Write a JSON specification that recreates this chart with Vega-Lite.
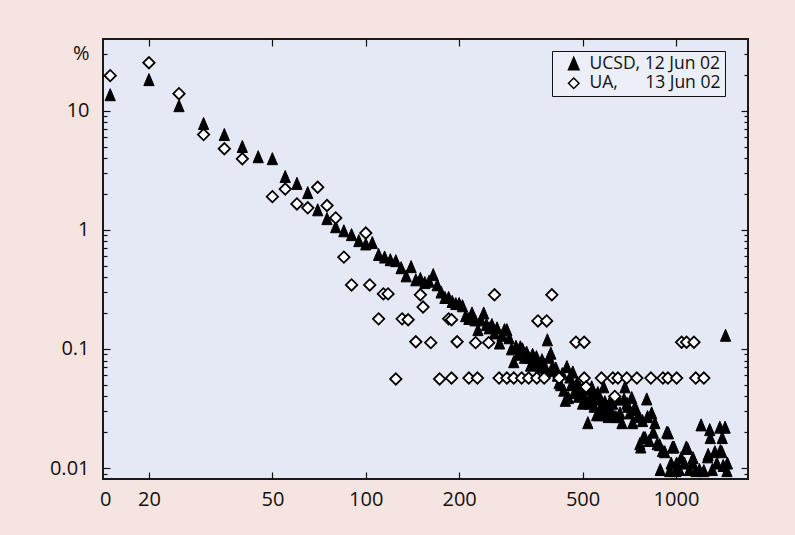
{
  "$schema": "https://vega.github.io/schema/vega-lite/v6.json",
  "width": 645,
  "height": 440,
  "autosize": {"type": "none"},
  "padding": {"left": 103, "top": 39, "right": 47, "bottom": 56},
  "background": "#f6e4e1",
  "config": {
    "view": {"fill": "#e5e9f5", "stroke": "#1a1a1a", "strokeWidth": 2},
    "font": "Open Sans",
    "axis": {"grid": false, "domain": false, "tickColor": "#111", "tickWidth": 1.2, "labelFont": "Open Sans", "labelFontSize": 20, "labelColor": "#111", "title": null, "labelOverlap": false, "labelFlush": false}
  },
  "data": {"values": [
    {"s":"U","x":15,"y":13.6},{"s":"U","x":20,"y":18.2},{"s":"U","x":25,"y":11.0},{"s":"U","x":30,"y":7.8},{"s":"U","x":35,"y":6.3},{"s":"U","x":40,"y":5.0},{"s":"U","x":45,"y":4.1},{"s":"U","x":50,"y":3.95},{"s":"U","x":55,"y":2.8},{"s":"U","x":60,"y":2.45},{"s":"U","x":65,"y":2.05},{"s":"U","x":70,"y":1.47},{"s":"U","x":75,"y":1.24},{"s":"U","x":80,"y":1.06},{"s":"U","x":85,"y":0.98},{"s":"U","x":90,"y":0.91},{"s":"U","x":95,"y":0.81},{"s":"U","x":100,"y":0.76},{"s":"U","x":105,"y":0.78},{"s":"U","x":110,"y":0.62},{"s":"U","x":115,"y":0.59},{"s":"U","x":120,"y":0.56},{"s":"U","x":125,"y":0.55},{"s":"U","x":130,"y":0.48},{"s":"U","x":135,"y":0.41},{"s":"U","x":140,"y":0.49},{"s":"U","x":145,"y":0.38},{"s":"U","x":150,"y":0.39},{"s":"U","x":155,"y":0.36},{"s":"U","x":160,"y":0.37},{"s":"U","x":165,"y":0.42},{"s":"U","x":170,"y":0.345},{"s":"U","x":175,"y":0.30},{"s":"U","x":180,"y":0.27},{"s":"U","x":185,"y":0.27},{"s":"U","x":190,"y":0.25},{"s":"U","x":195,"y":0.24},{"s":"U","x":200,"y":0.24},{"s":"U","x":205,"y":0.23},{"s":"U","x":210,"y":0.19},{"s":"U","x":215,"y":0.18},{"s":"U","x":220,"y":0.2},{"s":"U","x":225,"y":0.175},{"s":"U","x":230,"y":0.145},{"s":"U","x":235,"y":0.175},{"s":"U","x":240,"y":0.2},{"s":"U","x":245,"y":0.16},{"s":"U","x":250,"y":0.15},{"s":"U","x":255,"y":0.16},{"s":"U","x":260,"y":0.136},{"s":"U","x":265,"y":0.15},{"s":"U","x":270,"y":0.112},{"s":"U","x":275,"y":0.13},{"s":"U","x":280,"y":0.145},{"s":"U","x":285,"y":0.145},{"s":"U","x":290,"y":0.124},{"s":"U","x":295,"y":0.1},{"s":"U","x":300,"y":0.078},{"s":"U","x":305,"y":0.105},{"s":"U","x":310,"y":0.09},{"s":"U","x":315,"y":0.104},{"s":"U","x":320,"y":0.1},{"s":"U","x":325,"y":0.085},{"s":"U","x":330,"y":0.094},{"s":"U","x":335,"y":0.085},{"s":"U","x":340,"y":0.073},{"s":"U","x":345,"y":0.09},{"s":"U","x":350,"y":0.08},{"s":"U","x":355,"y":0.086},{"s":"U","x":360,"y":0.075},{"s":"U","x":365,"y":0.07},{"s":"U","x":370,"y":0.081},{"s":"U","x":375,"y":0.075},{"s":"U","x":380,"y":0.066},{"s":"U","x":385,"y":0.119},{"s":"U","x":390,"y":0.085},{"s":"U","x":395,"y":0.092},{"s":"U","x":400,"y":0.071},{"s":"U","x":405,"y":0.066},{"s":"U","x":410,"y":0.069},{"s":"U","x":415,"y":0.06},{"s":"U","x":420,"y":0.052},{"s":"U","x":425,"y":0.05},{"s":"U","x":430,"y":0.062},{"s":"U","x":435,"y":0.045},{"s":"U","x":440,"y":0.037},{"s":"U","x":445,"y":0.071},{"s":"U","x":450,"y":0.039},{"s":"U","x":455,"y":0.058},{"s":"U","x":460,"y":0.05},{"s":"U","x":465,"y":0.064},{"s":"U","x":470,"y":0.043},{"s":"U","x":475,"y":0.044},{"s":"U","x":480,"y":0.052},{"s":"U","x":485,"y":0.04},{"s":"U","x":490,"y":0.048},{"s":"U","x":495,"y":0.043},{"s":"U","x":500,"y":0.035},{"s":"U","x":505,"y":0.048},{"s":"U","x":510,"y":0.038},{"s":"U","x":515,"y":0.046},{"s":"U","x":520,"y":0.024},{"s":"U","x":525,"y":0.035},{"s":"U","x":530,"y":0.04},{"s":"U","x":535,"y":0.048},{"s":"U","x":540,"y":0.044},{"s":"U","x":545,"y":0.033},{"s":"U","x":550,"y":0.038},{"s":"U","x":555,"y":0.028},{"s":"U","x":560,"y":0.043},{"s":"U","x":565,"y":0.028},{"s":"U","x":570,"y":0.038},{"s":"U","x":575,"y":0.03},{"s":"U","x":580,"y":0.035},{"s":"U","x":585,"y":0.048},{"s":"U","x":590,"y":0.036},{"s":"U","x":595,"y":0.028},{"s":"U","x":600,"y":0.033},{"s":"U","x":605,"y":0.027},{"s":"U","x":610,"y":0.035},{"s":"U","x":620,"y":0.03},{"s":"U","x":625,"y":0.035},{"s":"U","x":630,"y":0.038},{"s":"U","x":640,"y":0.027},{"s":"U","x":650,"y":0.038},{"s":"U","x":655,"y":0.027},{"s":"U","x":660,"y":0.029},{"s":"U","x":670,"y":0.024},{"s":"U","x":680,"y":0.038},{"s":"U","x":685,"y":0.048},{"s":"U","x":695,"y":0.035},{"s":"U","x":700,"y":0.033},{"s":"U","x":710,"y":0.029},{"s":"U","x":720,"y":0.039},{"s":"U","x":725,"y":0.024},{"s":"U","x":735,"y":0.032},{"s":"U","x":745,"y":0.031},{"s":"U","x":755,"y":0.027},{"s":"U","x":765,"y":0.016},{"s":"U","x":770,"y":0.015},{"s":"U","x":780,"y":0.025},{"s":"U","x":785,"y":0.018},{"s":"U","x":795,"y":0.018},{"s":"U","x":805,"y":0.038},{"s":"U","x":810,"y":0.027},{"s":"U","x":820,"y":0.017},{"s":"U","x":835,"y":0.029},{"s":"U","x":845,"y":0.02},{"s":"U","x":855,"y":0.024},{"s":"U","x":870,"y":0.016},{"s":"U","x":885,"y":0.0157},{"s":"U","x":890,"y":0.0097},{"s":"U","x":905,"y":0.014},{"s":"U","x":920,"y":0.0137},{"s":"U","x":935,"y":0.02},{"s":"U","x":945,"y":0.0197},{"s":"U","x":955,"y":0.0095},{"s":"U","x":965,"y":0.011},{"s":"U","x":975,"y":0.015},{"s":"U","x":985,"y":0.015},{"s":"U","x":1000,"y":0.0095},{"s":"U","x":1005,"y":0.011},{"s":"U","x":1025,"y":0.0097},{"s":"U","x":1040,"y":0.0122},{"s":"U","x":1065,"y":0.011},{"s":"U","x":1080,"y":0.015},{"s":"U","x":1090,"y":0.0146},{"s":"U","x":1105,"y":0.0097},{"s":"U","x":1130,"y":0.011},{"s":"U","x":1135,"y":0.0122},{"s":"U","x":1160,"y":0.0095},{"s":"U","x":1190,"y":0.0097},{"s":"U","x":1205,"y":0.023},{"s":"U","x":1230,"y":0.0095},{"s":"U","x":1265,"y":0.0124},{"s":"U","x":1270,"y":0.013},{"s":"U","x":1285,"y":0.021},{"s":"U","x":1290,"y":0.018},{"s":"U","x":1310,"y":0.0097},{"s":"U","x":1335,"y":0.0137},{"s":"U","x":1355,"y":0.011},{"s":"U","x":1385,"y":0.022},{"s":"U","x":1390,"y":0.014},{"s":"U","x":1405,"y":0.0137},{"s":"U","x":1410,"y":0.018},{"s":"U","x":1420,"y":0.0105},{"s":"U","x":1440,"y":0.022},{"s":"U","x":1445,"y":0.13},{"s":"U","x":1460,"y":0.0095},{"s":"U","x":1465,"y":0.011},
    {"s":"A","x":15,"y":19.7},{"s":"A","x":20,"y":25.3},{"s":"A","x":25,"y":13.9},{"s":"A","x":30,"y":6.3},{"s":"A","x":35,"y":4.8},{"s":"A","x":40,"y":3.95},{"s":"A","x":50,"y":1.9},{"s":"A","x":55,"y":2.2},{"s":"A","x":60,"y":1.65},{"s":"A","x":65,"y":1.53},{"s":"A","x":70,"y":2.28},{"s":"A","x":75,"y":1.6},{"s":"A","x":80,"y":1.26},{"s":"A","x":85,"y":0.59},{"s":"A","x":90,"y":0.345},{"s":"A","x":100,"y":0.94},{"s":"A","x":103,"y":0.345},{"s":"A","x":110,"y":0.179},{"s":"A","x":114,"y":0.29},{"s":"A","x":118,"y":0.29},{"s":"A","x":125,"y":0.056},{"s":"A","x":131,"y":0.179},{"s":"A","x":137,"y":0.176},{"s":"A","x":145,"y":0.115},{"s":"A","x":150,"y":0.285},{"s":"A","x":153,"y":0.225},{"s":"A","x":162,"y":0.113},{"s":"A","x":173,"y":0.056},{"s":"A","x":185,"y":0.179},{"s":"A","x":189,"y":0.176},{"s":"A","x":189,"y":0.057},{"s":"A","x":197,"y":0.115},{"s":"A","x":215,"y":0.057},{"s":"A","x":226,"y":0.113},{"s":"A","x":229,"y":0.057},{"s":"A","x":249,"y":0.113},{"s":"A","x":260,"y":0.285},{"s":"A","x":269,"y":0.057},{"s":"A","x":285,"y":0.057},{"s":"A","x":300,"y":0.057},{"s":"A","x":318,"y":0.057},{"s":"A","x":335,"y":0.057},{"s":"A","x":356,"y":0.057},{"s":"A","x":359,"y":0.172},{"s":"A","x":376,"y":0.057},{"s":"A","x":383,"y":0.172},{"s":"A","x":398,"y":0.285},{"s":"A","x":420,"y":0.057},{"s":"A","x":476,"y":0.114},{"s":"A","x":506,"y":0.114},{"s":"A","x":506,"y":0.057},{"s":"A","x":513,"y":0.048},{"s":"A","x":575,"y":0.057},{"s":"A","x":626,"y":0.057},{"s":"A","x":635,"y":0.04},{"s":"A","x":650,"y":0.057},{"s":"A","x":694,"y":0.057},{"s":"A","x":748,"y":0.057},{"s":"A","x":830,"y":0.057},{"s":"A","x":908,"y":0.057},{"s":"A","x":942,"y":0.057},{"s":"A","x":1005,"y":0.057},{"s":"A","x":1043,"y":0.114},{"s":"A","x":1082,"y":0.114},{"s":"A","x":1143,"y":0.114},{"s":"A","x":1158,"y":0.057},{"s":"A","x":1230,"y":0.057}
  ]},
  "layer": [
    {
      "transform": [{"filter": "datum.s == 'U'"}],
      "mark": {"type": "point", "filled": true, "clip": true, "size": 105, "stroke": "black", "strokeWidth": 1, "opacity": 1},
      "encoding": {
        "x": {"field": "x", "type": "quantitative", "scale": {"type": "log", "domain": [14.22, 1707], "nice": false},
          "axis": {"orient": "bottom", "values": [14.46, 20, 50, 100, 200, 500, 1000], "labelExpr": "datum.value < 15 ? '0' : format(datum.value, 'd')", "tickSize": -7, "tickOpacity": {"condition": {"test": "datum.value < 15", "value": 0}, "value": 1}, "labelPadding": 17}},
        "y": {"field": "y", "type": "quantitative", "scale": {"type": "log", "domain": [0.0081, 40], "nice": false},
          "axis": {"orient": "left", "values": [0.009, 0.01, 0.02, 0.03, 0.04, 0.05, 0.06, 0.07, 0.08, 0.09, 0.1, 0.2, 0.3, 0.4, 0.5, 0.6, 0.7, 0.8, 0.9, 1, 2, 3, 4, 5, 6, 7, 8, 9, 10, 20, 30],
            "labelExpr": "datum.value == 30 ? '%' : datum.value == 0.01 ? '0.01' : datum.value == 0.1 ? '0.1' : datum.value == 1 ? '1' : datum.value == 10 ? '10' : ''",
            "tickSize": {"condition": {"test": "indexof([0.01, 0.1, 1, 10], datum.value) >= 0", "value": -7}, "value": -4},
            "labelPadding": {"condition": {"test": "datum.value == 30", "value": 18}, "value": 21}}},
        "shape": {"field": "s", "type": "nominal", "scale": {"domain": ["U", "A"], "range": ["M-1,1.15L1,1.15L0,-1.2Z", "diamond"]},
          "legend": {"title": null, "orient": "none", "legendX": 449, "legendY": 12, "strokeColor": "#111", "fillColor": "#eceff8", "padding": 4, "symbolOffset": 9, "labelOffset": 7, "rowPadding": 0.5, "labelFontSize": 17.5, "labelFont": "Open Sans", "labelColor": "#111", "symbolSize": 110,
            "labelExpr": "datum.value == 'U' ? 'UCSD, 12 Jun 02' : 'UA,\u00a0\u00a0\u00a0\u00a0\u00a0\u00a013 Jun 02'",
            "encode": {"symbols": {"update": {"stroke": {"value": "black"}, "strokeWidth": {"value": 1.6}}}}}},
        "fill": {"field": "s", "type": "nominal", "scale": {"domain": ["U", "A"], "range": ["black", "white"]},
          "legend": {"title": null, "orient": "none", "legendX": 449, "legendY": 12, "strokeColor": "#111", "fillColor": "#eceff8", "padding": 4, "symbolOffset": 9, "labelOffset": 7, "rowPadding": 0.5, "labelFontSize": 17.5, "labelFont": "Open Sans", "labelColor": "#111", "symbolSize": 110,
            "labelExpr": "datum.value == 'U' ? 'UCSD, 12 Jun 02' : 'UA,\u00a0\u00a0\u00a0\u00a0\u00a0\u00a013 Jun 02'",
            "encode": {"symbols": {"update": {"stroke": {"value": "black"}, "strokeWidth": {"value": 1.6}}}}}}
      }
    },
    {
      "transform": [{"filter": "datum.s == 'A'"}],
      "mark": {"type": "point", "filled": true, "clip": true, "size": 130, "stroke": "black", "strokeWidth": 1.8, "opacity": 1},
      "encoding": {
        "x": {"field": "x", "type": "quantitative", "scale": {"type": "log", "domain": [14.22, 1707], "nice": false},
          "axis": {"orient": "top", "values": [20, 50, 100, 200, 500, 1000], "labels": false, "tickSize": -7}},
        "y": {"field": "y", "type": "quantitative", "scale": {"type": "log", "domain": [0.0081, 40], "nice": false},
          "axis": {"orient": "right", "values": [0.009, 0.01, 0.02, 0.03, 0.04, 0.05, 0.06, 0.07, 0.08, 0.09, 0.1, 0.2, 0.3, 0.4, 0.5, 0.6, 0.7, 0.8, 0.9, 1, 2, 3, 4, 5, 6, 7, 8, 9, 10, 20, 30], "labels": false,
            "tickSize": {"condition": {"test": "indexof([0.01, 0.1, 1, 10], datum.value) >= 0", "value": -7}, "value": -4}}},
        "shape": {"field": "s", "type": "nominal", "scale": {"domain": ["U", "A"], "range": ["M-1,1.15L1,1.15L0,-1.2Z", "diamond"]}},
        "fill": {"field": "s", "type": "nominal", "scale": {"domain": ["U", "A"], "range": ["black", "white"]}}
      }
    }
  ],
  "resolve": {"axis": {"x": "independent", "y": "independent"}}
}
